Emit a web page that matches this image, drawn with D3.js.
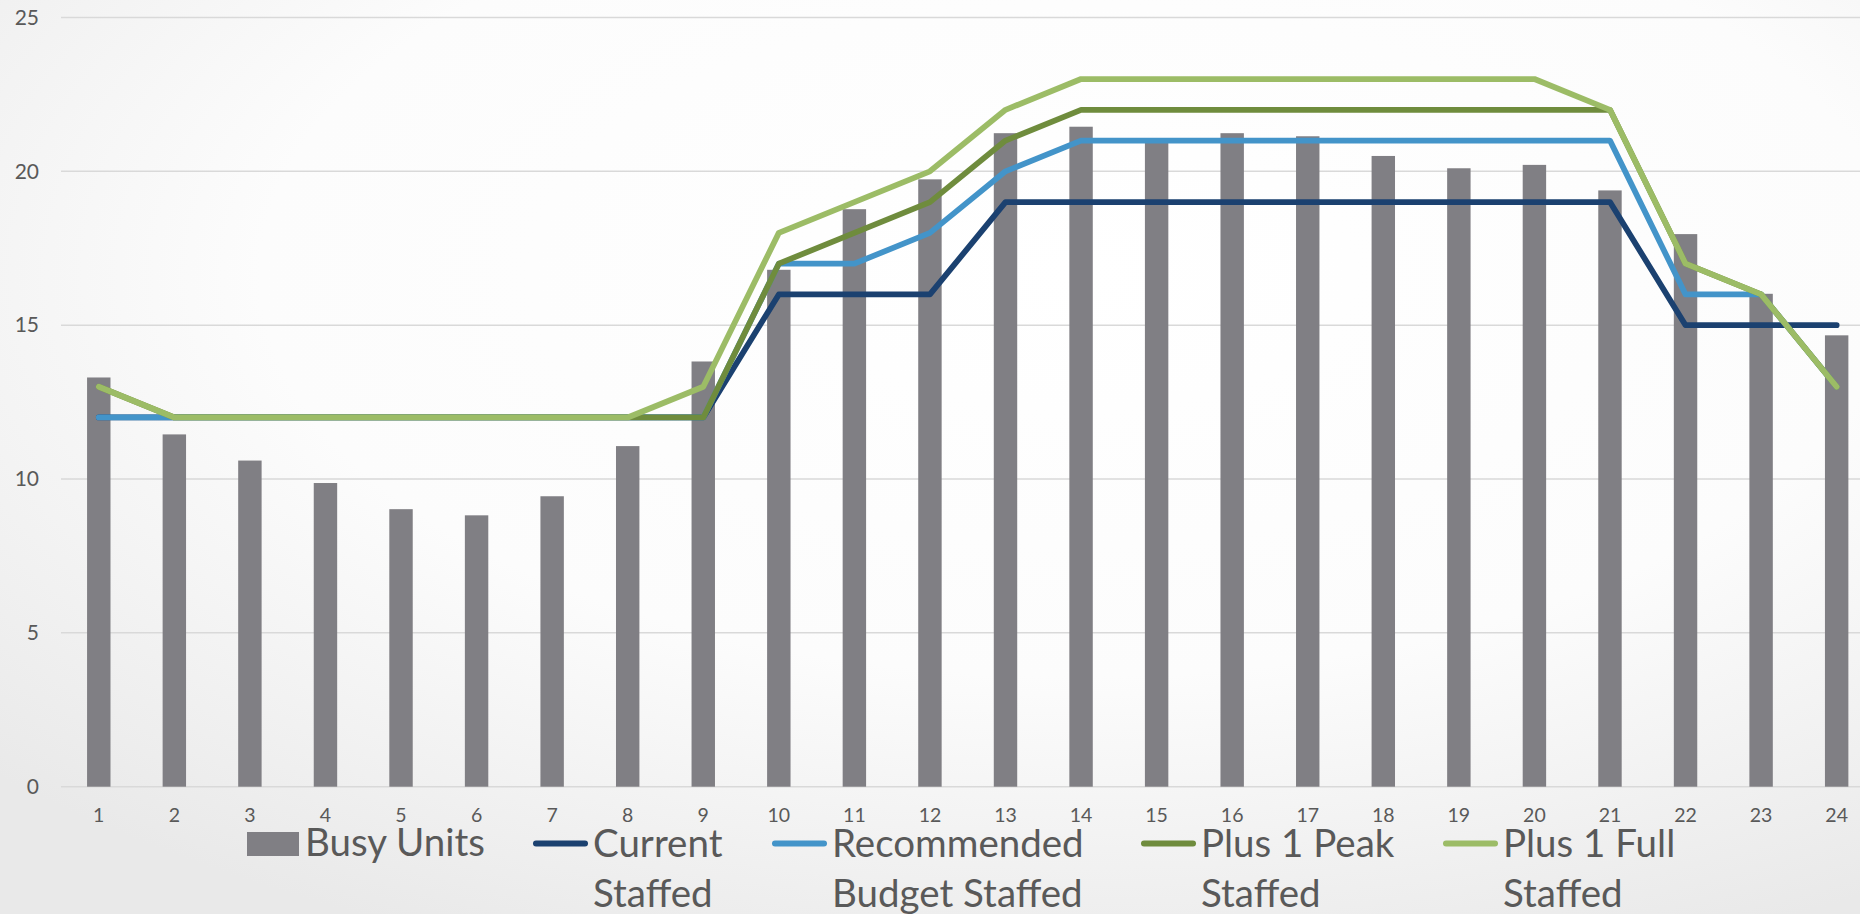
<!DOCTYPE html>
<html>
<head>
<meta charset="utf-8">
<script src="https://cdn.jsdelivr.net/npm/d3@7"></script>
<style>
  html, body { margin: 0; padding: 0; overflow: hidden; background: #fff; }
  svg { display: block; font-family: Lato, "Open Sans", sans-serif; }
</style>
</head>
<body>
<svg id="chart" width="1860" height="914"></svg>
<script>
// Hour of day (categories on the x axis)
const hours = [1, 2, 3, 4, 5, 6, 7, 8, 9, 10, 11, 12, 13, 14, 15, 16, 17, 18, 19, 20, 21, 22, 23, 24];

// Busy units per hour (bars)
const busyUnits = [13.3, 11.45, 10.6, 9.87, 9.02, 8.82, 9.44, 11.07, 13.82, 16.8, 18.77, 19.74, 21.24, 21.45,
  20.97, 21.24, 21.14, 20.5, 20.1, 20.21, 19.38, 17.96, 16.02, 14.67];

// Staffing levels per hour (lines)
const currentStaffed = [12, 12, 12, 12, 12, 12, 12, 12, 12, 16, 16, 16, 19, 19, 19, 19, 19, 19, 19, 19, 19, 15, 15, 15];
const recommendedBudgetStaffed = [12, 12, 12, 12, 12, 12, 12, 12, 12, 17, 17, 18, 20, 21, 21, 21, 21, 21, 21, 21, 21, 16, 16, 13];
const plus1PeakStaffed = [13, 12, 12, 12, 12, 12, 12, 12, 12, 17, 18, 19, 21, 22, 22, 22, 22, 22, 22, 22, 22, 17, 16, 13];
const plus1FullStaffed = [13, 12, 12, 12, 12, 12, 12, 12, 13, 18, 19, 20, 22, 23, 23, 23, 23, 23, 23, 23, 22, 17, 16, 13];

// Y axis ticks
const yTicks = [0, 5, 10, 15, 20, 25];

// Series names
const barName = "Busy Units";
const lineNames = [["Current", "Staffed"], ["Recommended", "Budget Staffed"], ["Plus 1 Peak", "Staffed"], ["Plus 1 Full", "Staffed"]];

const lineSeries = [currentStaffed, recommendedBudgetStaffed, plus1PeakStaffed, plus1FullStaffed];
const lineColors = ["#1b4170", "#4394c9", "#6f8c3d", "#9cbc66"];
const barColor = "#807f84";
const textColor = "#595959";

const svg = d3.select("#chart");

// soft background shading
const defs = svg.append("defs");
const bg = defs.append("radialGradient").attr("id", "bg")
  .attr("cx", 0.58).attr("cy", 0.3).attr("r", 0.8);
bg.append("stop").attr("offset", 0).attr("stop-color", "#ffffff");
bg.append("stop").attr("offset", 0.55).attr("stop-color", "#fcfcfc");
bg.append("stop").attr("offset", 1).attr("stop-color", "#e9e9e9");
svg.append("rect").attr("width", 1860).attr("height", 914).attr("fill", "url(#bg)");

const x = d3.scaleBand()
  .domain(hours)
  .range([61, 61 + 24 * 75.56])
  .paddingInner(0.69)
  .paddingOuter(0.345);

const y = d3.scaleLinear().domain([0, 25]).range([786.7, 17.5]);

// gridlines
svg.append("g")
  .selectAll("line")
  .data(yTicks)
  .join("line")
  .attr("x1", 61).attr("x2", 1860)
  .attr("y1", d => y(d)).attr("y2", d => y(d))
  .attr("stroke", "#d9d9d9").attr("stroke-width", 1.5);

// y axis labels
const yAxis = d3.axisLeft(y).tickValues(yTicks).tickSize(0).tickPadding(0).tickFormat(d3.format("d"));
const gy = svg.append("g").attr("transform", "translate(39,0)").call(yAxis);
gy.select(".domain").remove();
gy.selectAll("text").attr("fill", textColor).style("font-size", "21px").style("font-family", "Lato");

// x axis labels
const xAxis = d3.axisBottom(x).tickSize(0).tickPadding(0);
const gx = svg.append("g").attr("transform", "translate(0,808)").call(xAxis);
gx.select(".domain").remove();
gx.selectAll("text").attr("fill", textColor).attr("dy", "0.71em").style("font-size", "19.5px").style("font-family", "Lato");

// bars
svg.append("g")
  .selectAll("rect")
  .data(busyUnits)
  .join("rect")
  .attr("x", (d, i) => x(hours[i]))
  .attr("width", x.bandwidth())
  .attr("y", d => y(d))
  .attr("height", d => y(0) - y(d))
  .attr("fill", barColor);

// staffing lines
const line = d3.line()
  .x((d, i) => x(hours[i]) + x.bandwidth() / 2)
  .y(d => y(d));

svg.append("g")
  .selectAll("path")
  .data(lineSeries)
  .join("path")
  .attr("d", d => line(d))
  .attr("fill", "none")
  .attr("stroke", (d, i) => lineColors[i])
  .attr("stroke-width", 5.75)
  .attr("stroke-linejoin", "round")
  .attr("stroke-linecap", "round");

// legend
const legend = svg.append("g").style("font-family", "Lato").style("font-size", "38.5px").attr("fill", textColor);
legend.append("rect").attr("x", 247).attr("y", 832).attr("width", 52).attr("height", 24).attr("fill", barColor);
legend.append("text").attr("x", 305).attr("y", 856).text(barName);

const legendX = [536, 775, 1144, 1446];
lineNames.forEach((lines, i) => {
  legend.append("line")
    .attr("x1", legendX[i]).attr("x2", legendX[i] + 49)
    .attr("y1", 843.5).attr("y2", 843.5)
    .attr("stroke", lineColors[i]).attr("stroke-width", 6).attr("stroke-linecap", "round");
  const t = legend.append("text").attr("x", legendX[i] + 57).attr("y", 857);
  lines.forEach((s, j) => {
    t.append("tspan").attr("x", legendX[i] + 57).attr("dy", j === 0 ? 0 : 50).text(s);
  });
});
</script>
</body>
</html>
